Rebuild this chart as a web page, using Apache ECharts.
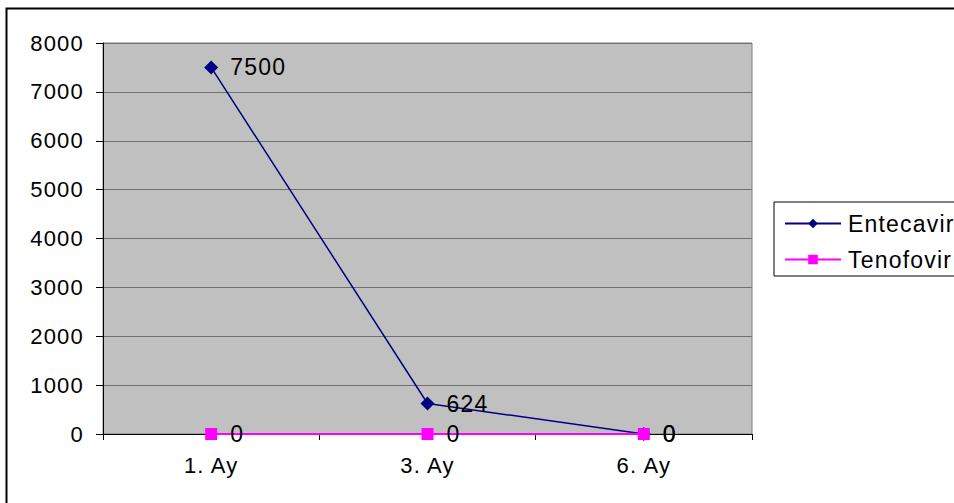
<!DOCTYPE html>
<html>
<head>
<meta charset="utf-8">
<script src="https://cdn.jsdelivr.net/npm/echarts@6/dist/echarts.min.js"></script>
<style>
html,body{margin:0;padding:0;background:#fff}
#c{width:954px;height:503px}
#c svg text{letter-spacing:1.2px}
</style>
</head>
<body>
<div id="c"></div>
<script>
const categories = ['1. Ay', '3. Ay', '6. Ay'];
const entecavir = [7500, 624, 0];
const tenofovir = [0, 0, 0];
const yTicks = { min: 0, max: 8000, interval: 1000 };

const chart = echarts.init(document.getElementById('c'), null, { renderer: 'svg' });
const font = 'Liberation Sans, Arial, sans-serif';
chart.setOption({
  animation: false,
  backgroundColor: '#fff',
  textStyle: { fontFamily: font, color: '#000' },
  graphic: [{
    type: 'rect', left: 4, top: 6, z: 100, silent: true,
    shape: { width: 980, height: 520 },
    style: { fill: 'none', stroke: '#000', lineWidth: 2 }
  }],
  grid: {
    left: 103, top: 43, width: 649, height: 391,
    show: true, backgroundColor: '#C0C0C0', borderColor: '#808080', borderWidth: 1
  },
  legend: {
    orient: 'vertical', left: 774, top: 202,
    padding: [10, 40, 5, 10],
    borderColor: '#000', borderWidth: 1,
    itemWidth: 56, itemHeight: 12, itemGap: 13,
    itemStyle: {},
    textStyle: { fontFamily: font, fontSize: 23, color: '#000', padding: [0, 0, 0, 2] },
    data: ['Entecavir', 'Tenofovir']
  },
  xAxis: {
    type: 'category', data: categories, boundaryGap: true,
    axisLine: { lineStyle: { color: '#000', width: 1 } },
    axisTick: { show: true, length: 6, lineStyle: { color: '#000' } },
    axisLabel: { fontFamily: font, fontSize: 22, color: '#000', margin: 20 },
    splitLine: { show: false }
  },
  yAxis: {
    type: 'value', min: yTicks.min, max: yTicks.max, interval: yTicks.interval,
    axisLine: { show: true, lineStyle: { color: '#000', width: 1 } },
    axisTick: { show: true, length: 7, lineStyle: { color: '#000' } },
    axisLabel: { fontFamily: font, fontSize: 22, color: '#000', margin: 19, formatter: v => String(v) },
    splitLine: { show: true, lineStyle: { color: '#707070', width: 1 } }
  },
  series: [
    {
      name: 'Entecavir', type: 'line', data: entecavir,
      symbol: 'diamond', symbolSize: 14,
      lineStyle: { color: '#000080', width: 1.5 },
      itemStyle: { color: '#000080' },
      label: { show: true, position: 'right', distance: 12, fontFamily: font, fontSize: 23, color: '#000' },
      z: 3
    },
    {
      name: 'Tenofovir', type: 'line', data: tenofovir,
      symbol: 'rect', symbolSize: 12,
      lineStyle: { color: '#FF00FF', width: 2 },
      itemStyle: { color: '#FF00FF' },
      label: { show: true, position: 'right', distance: 13, fontFamily: font, fontSize: 23, color: '#000' },
      z: 4
    }
  ]
});
</script>
</body>
</html>
